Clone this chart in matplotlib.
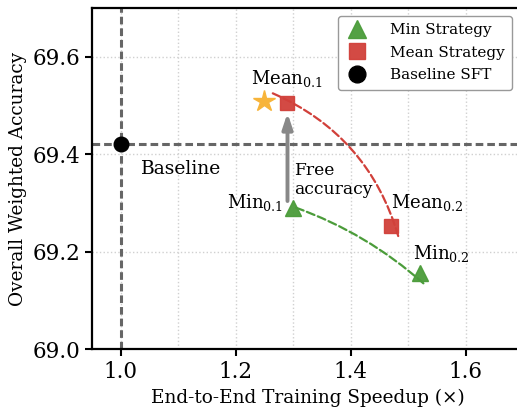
import numpy as np
import matplotlib
matplotlib.use("Agg")
from matplotlib import pyplot as plt
from matplotlib.patches import FancyArrowPatch
from matplotlib.ticker import MultipleLocator

# data
baseline_x = 1.0
baseline_y = 69.42

min_x = [1.30, 1.52]
min_y = [69.29, 69.155]
min_labels = ["Min$_{0.1}$", "Min$_{0.2}$"]

mean_x = [1.29, 1.47]
mean_y = [69.505, 69.253]
mean_labels = ["Mean$_{0.1}$", "Mean$_{0.2}$"]

star_x = 1.25
star_y = 69.51

# trend curves (start, end)
mean_curve = [(1.26, 69.527), (1.484, 69.226)]
min_curve = [(1.30, 69.292), (1.53, 69.131)]

green = '#4b9c3a'
red = '#d1403a'
orange = '#f7b43a'

plt.rcParams['font.family'] = 'DejaVu Serif'
plt.rcParams['mathtext.fontset'] = 'dejavuserif'

fig = plt.figure(figsize=(5.17, 4.07), dpi=100)
ax = fig.add_axes([0.178, 0.1425, 0.834, 0.838])

ax.set_xlim(0.95, 1.70)
ax.set_ylim(69.0, 69.7)
ax.xaxis.set_major_locator(MultipleLocator(0.2))
ax.xaxis.set_minor_locator(MultipleLocator(0.1))
ax.yaxis.set_major_locator(MultipleLocator(0.2))
ax.grid(True, which='both', axis='x', linestyle=':', color='#d0d0d0', lw=1.0)
ax.grid(True, which='major', axis='y', linestyle=':', color='#d0d0d0', lw=1.0)
ax.tick_params(axis='x', which='minor', length=0)
ax.tick_params(labelsize=15.5, width=1.5, length=5)
ax.set_axisbelow(True)
for s in ax.spines.values():
    s.set_linewidth(1.6)

# baseline reference lines
ax.axvline(baseline_x, color='#666666', lw=2.2, linestyle=(0, (2.5, 1.3)), zorder=2)
ax.axhline(baseline_y, color='#666666', lw=2.2, linestyle=(0, (2.5, 1.3)), zorder=2)

# trend curves
for (p0, p1), col, rad in [(mean_curve, red, -0.24), (min_curve, green, -0.1)]:
    curve = FancyArrowPatch(p0, p1, arrowstyle='-', connectionstyle=f'arc3,rad={rad}',
                            color=col, lw=1.6, linestyle='--', zorder=3)
    ax.add_patch(curve)

ax.plot(min_x, min_y, '^', color=green, ms=11, label='Min Strategy', zorder=5, alpha=0.95)
ax.plot(mean_x, mean_y, 's', color=red, ms=10, label='Mean Strategy', zorder=5, alpha=0.95)
ax.plot([baseline_x], [baseline_y], 'o', color='black', ms=10.5, label='Baseline SFT', zorder=6)
ax.plot([star_x], [star_y], '*', color=orange, ms=16, zorder=5)

# free accuracy arrow
ax.annotate('', xy=(1.29, 69.49), xytext=(1.29, 69.298),
            arrowprops=dict(arrowstyle='-|>,head_width=0.3,head_length=0.9',
                            color='#888888', lw=2.8), zorder=4)
ax.text(1.302, 69.347, 'Free\naccuracy', fontsize=12.3, ha='left', va='center', linespacing=1.1)

# point labels
ax.text(1.289, 69.555, mean_labels[0], fontsize=13, ha='center', va='center')
ax.text(1.283, 69.30, min_labels[0], fontsize=13, ha='right', va='center')
ax.text(1.47, 69.30, mean_labels[1], fontsize=13, ha='left', va='center')
ax.text(1.508, 69.197, min_labels[1], fontsize=13, ha='left', va='center')
ax.text(1.035, 69.37, 'Baseline', fontsize=13.5, ha='left', va='center')

ax.set_xlabel('End-to-End Training Speedup (×)', fontsize=13.3)
ax.set_ylabel('Overall Weighted Accuracy', fontsize=13.3)

ax.legend(loc='upper right', bbox_to_anchor=(0.992, 1.0), fontsize=11, framealpha=1,
          edgecolor='#999999', handlelength=1.5, handletextpad=1.4, borderpad=0.5,
          labelspacing=0.55, markerscale=1.15)

fig.savefig('out.png', dpi=100)
